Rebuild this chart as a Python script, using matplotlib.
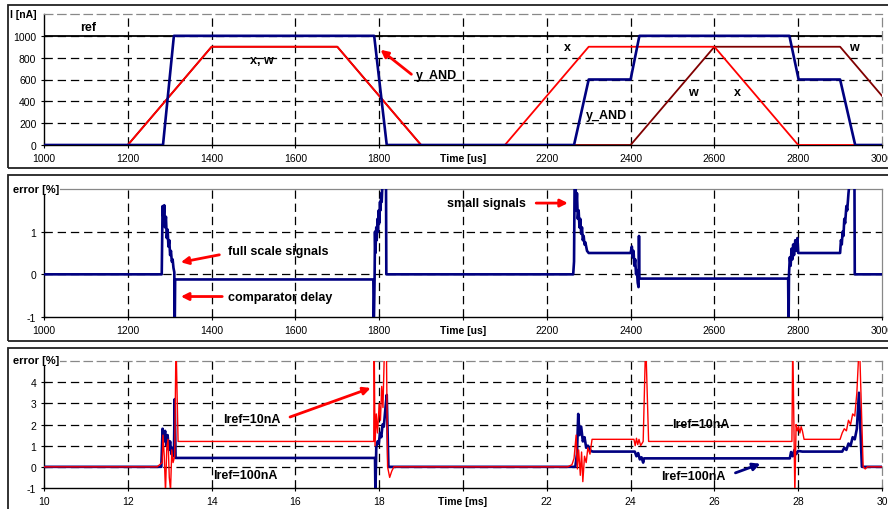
import matplotlib
matplotlib.use("Agg")
import matplotlib.pyplot as plt
from matplotlib.patches import Rectangle

plt.rcParams['font.family'] = ['Liberation Sans', 'DejaVu Sans']
plt.rcParams['lines.scale_dashes'] = False
plt.rcParams['axes.unicode_minus'] = False

NAVY = '#000080'
RED = '#FF0000'
DARKRED = '#800000'

# ---- top panel: currents [nA] vs time [us]
ref_t = [1000, 3000]
ref_v = [1000, 1000]

x_t = [1000, 1200, 1400, 1700, 1900, 2100, 2300, 2600, 2800, 3000]
x_v = [0, 0, 900, 900, 0, 0, 900, 900, 0, 0]

w_t = [1000, 1200, 1400, 1700, 1900, 2400, 2600, 2900, 3000]
w_v = [0, 0, 900, 900, 0, 0, 900, 900, 450]

yand_t = [1000, 1284, 1310, 1788, 1818, 2265, 2300, 2400, 2421, 2779, 2801, 2900, 2936, 3000]
yand_v = [0, 0, 1000, 1000, 0, 0, 600, 600, 1000, 1000, 600, 600, 0, 0]

# ---- middle panel: error [%] vs time [us]
err_t = [1000, 1281, 1283, 1285, 1287, 1289, 1291, 1293, 1295, 1297, 1299, 1301, 1303,
         1305, 1307, 1309, 1311, 1312, 1313, 1786, 1787, 1789, 1790, 1791, 1793, 1794,
         1796, 1797, 1799, 1800, 1802, 1803, 1805, 1806, 1808, 1811, 1816, 1817,
         2263, 2265, 2267, 2270, 2272, 2274, 2276, 2278, 2280, 2282, 2284, 2286, 2288,
         2290, 2292, 2296, 2300, 2400, 2403, 2405, 2407, 2409, 2411, 2413, 2415, 2417,
         2419, 2420, 2421, 2776, 2777, 2778, 2780, 2782, 2784, 2786, 2788, 2790, 2793,
         2795, 2798, 2800, 2900, 2902, 2904, 2906, 2908, 2910, 2912, 2915, 2917, 2920,
         2923, 2928, 2934, 2935, 3000]
err_v = [0, 0, 1.6, 1.3, 1.62, 1.1, 1.35, 0.85, 1.05, 0.65, 0.8, 0.45, 0.55,
         0.3, 0.35, 0.15, 0.05, -1.3, -0.12, -0.12, -1.3, -0.1, 1.0, 0.5, 1.1, 0.8,
         1.3, 1.0, 1.5, 1.2, 1.7, 1.5, 1.9, 1.7, 2.2, 2.5, 3.0, 0.0,
         0, 0.3, 3.0, 1.5, 1.9, 1.3, 1.5, 1.1, 1.3, 0.95, 1.1, 0.8, 0.9,
         0.7, 0.75, 0.55, 0.5, 0.5, 0.65, 0.4, 0.55, 0.2, 0.35, 0.0, 0.1, -0.2,
         -0.3, 0.9, -0.1, -0.1, -1.3, 0.0, 0.4, 0.2, 0.6, 0.35, 0.7, 0.45, 0.8,
         0.55, 0.85, 0.5, 0.5, 0.8, 0.7, 1.0, 0.9, 1.3, 1.2, 1.6, 1.5, 1.9,
         2.2, 2.5, 3.0, 0.0, 0]

# ---- bottom panel: error [%] vs time [ms], two reference currents
i100_t = [10, 12.8, 12.83, 12.86, 12.89, 12.92, 12.95, 12.98, 13.01, 13.04, 13.07, 13.1,
          13.12, 13.14, 17.9, 17.91, 17.93, 17.96, 17.99, 18.02, 18.05, 18.08, 18.11,
          18.15, 18.18, 18.22, 22.68, 22.72, 22.75, 22.78, 22.82, 22.86, 22.9, 22.94,
          22.98, 23.05, 23.1, 24.1, 24.14, 24.18, 24.22, 24.26, 24.3, 24.32, 27.8,
          27.83, 27.87, 27.91, 27.95, 28.0, 28.1, 29.05, 29.1, 29.15, 29.2, 29.25,
          29.3, 29.35, 29.4, 29.45, 29.52, 30]
i100_v = [0, 0, 1.8, 1.2, 1.7, 1.0, 1.5, 0.8, 1.2, 0.6, 0.9, 0.5,
          3.2, 0.42, 0.42, -1.3, 0.9, 1.2, 1.1, 1.6, 1.4, 2.0, 1.9,
          2.8, 3.4, 0.0, 0, 0.6, 2.5, 1.5, 1.9, 1.2, 1.4, 0.9,
          1.0, 0.75, 0.72, 0.72, 0.5, 0.65, 0.35, 0.45, 0.2, 0.4, 0.4,
          0.7, 0.5, 0.8, 0.6, 0.75, 0.72, 0.72, 0.9, 0.8, 1.1, 1.0,
          1.4, 1.3, 1.8, 3.5, 0.0, 0]

i10_t = [10, 12.7, 12.76, 12.82, 12.84, 12.87, 12.9, 12.93, 12.96, 12.99, 13.02, 13.05,
         13.08, 13.12, 13.15, 13.2, 17.87, 17.88, 17.9, 17.93, 17.96, 18.0, 18.03,
         18.06, 18.09, 18.13, 18.17, 18.2, 18.25, 18.3, 18.35, 22.5, 22.6, 22.65,
         22.7, 22.73, 22.76, 22.8, 22.83, 22.86, 22.9, 22.94, 22.98, 23.03, 23.08,
         24.08, 24.11, 24.14, 24.17, 24.2, 24.24, 24.3, 24.36, 24.43, 27.85, 27.87,
         27.92, 27.95, 27.98, 28.01, 28.04, 28.07, 28.1, 28.14, 29.0, 29.05, 29.1,
         29.15, 29.2, 29.25, 29.3, 29.35, 29.4, 29.46, 29.55, 29.6, 29.65, 30]
i10_v = [0, 0, 0.1, 0.2, 1.5, 0.5, -1.2, 0.9, 1.3, -0.5, -1.1, 0.8,
         0.2, 0.5, 6.0, 1.2, 1.2, 6.0, 1.0, 2.5, 1.6, 3.0, 2.2,
         3.8, 2.8, 6.0, 6.0, 0.0, -0.5, -0.2, 0, 0, 0.1, 0.4,
         1.5, -0.1, 0.8, -0.4, 0.7, -0.7, 0.5, 0.2, 0.9, 0.6, 1.3,
         1.3, 1.0, 1.35, 1.05, 1.3, 1.0, 1.2, 6.0, 1.2, 1.2, 6.0,
         -1.3, 2.0, 1.7, 1.9, 1.6, 1.9, 1.7, 1.3, 1.3, 1.6, 1.8,
         1.7, 2.2, 2.0, 2.5, 2.4, 3.5, 6.0, 0.0, -0.1, 0, 0]

top_xticks = [1000, 1200, 1400, 1600, 1800, 2000, 2200, 2400, 2600, 2800, 3000]
top_xlabels = ['1000', '1200', '1400', '1600', '1800', 'Time [us]', '2200', '2400', '2600', '2800', '3000']
bot_xticks = [10, 12, 14, 16, 18, 20, 22, 24, 26, 28, 30]
bot_xlabels = ['10', '12', '14', '16', '18', 'Time [ms]', '22', '24', '26', '28', '30']

W, H = 888, 510
fig = plt.figure(figsize=(W / 100, H / 100), dpi=100)

# chart area frames
for y0, y1 in [(6, 169), (176, 342), (349, 530)]:
    fig.add_artist(Rectangle((8 / W, 1 - y1 / H), 1.2, (y1 - y0) / H, transform=fig.transFigure,
                             fill=False, edgecolor='#222222', linewidth=1.3))


def make_axes(top, bottom, xticks, xlabels, yticks, ylim, border_dashed):
    ax = fig.add_axes([44 / W, 1 - bottom / H, (882 - 44) / W, (bottom - top) / H])
    ax.set_xlim(xticks[0], xticks[-1])
    ax.set_ylim(*ylim)
    ax.set_xticks(xticks)
    ax.set_xticklabels(xlabels)
    ax.get_xticklabels()[5].set_fontweight('bold')
    ax.set_yticks(yticks)
    ax.tick_params(direction='inout', length=5, width=0.8, labelsize=7.5, pad=3)
    for v in xticks[1:-1]:
        ax.axvline(v, color='black', lw=0.9, ls=(0, (6, 3.5)), zorder=1)
    for v in yticks[1:]:
        ax.axhline(v, color='black', lw=0.9, ls=(0, (6, 3.5)), zorder=1)
    ax.spines['left'].set_linewidth(1.0)
    ax.spines['bottom'].set_linewidth(1.0)
    for s in ['top', 'right']:
        ax.spines[s].set_color('#888888')
        ax.spines[s].set_linewidth(0.9)
        if border_dashed:
            ax.spines[s].set_linestyle((0, (6, 3.5)))
    return ax


arrow_red = dict(arrowstyle='-|>', color=RED, lw=2, mutation_scale=11)
lab = dict(fontsize=9, fontweight='bold', va='center')

# top panel
ax1 = make_axes(15, 146, top_xticks, top_xlabels, [0, 200, 400, 600, 800, 1000], (0, 1200), True)
ax1.plot(ref_t, ref_v, color='black', lw=1.3, zorder=2)
ax1.plot(w_t, w_v, color=DARKRED, lw=1.3, zorder=3)
ax1.plot(x_t, x_v, color=RED, lw=1.3, zorder=4)
ax1.plot(yand_t, yand_v, color=NAVY, lw=1.9, zorder=5)
ax1.text(1086, 1081, 'ref', **lab)
ax1.text(1492, 779, 'x, w', **lab)
ax1.text(1887, 640, 'y_AND', **lab)
ax1.annotate('', xy=(1798, 888), xytext=(1882, 632), arrowprops=arrow_red)
ax1.text(2240, 900, 'x', **lab)
ax1.text(2293, 275, 'y_AND', **lab)
ax1.text(2537, 485, 'w', **lab)
ax1.text(2646, 485, 'x', **lab)
ax1.text(2922, 898, 'w', **lab)
fig.text(10 / W, 1 - 15.5 / H, 'I [nA]', fontsize=7.5, fontweight='bold', va='center')

# middle panel
ax2 = make_axes(190, 318, top_xticks, top_xlabels, [-1, 0, 1], (-1, 2), False)
ax2.plot(err_t, err_v, color=NAVY, lw=1.9, zorder=5)
ax2.text(1963, 1.67, 'small signals', **lab)
ax2.annotate('', xy=(2257, 1.67), xytext=(2168, 1.67), arrowprops=arrow_red)
ax2.text(1440, 0.54, 'full scale signals', **lab)
ax2.annotate('', xy=(1320, 0.27), xytext=(1425, 0.47), arrowprops=arrow_red)
ax2.text(1440, -0.54, 'comparator delay', **lab)
ax2.annotate('', xy=(1320, -0.52), xytext=(1432, -0.52), arrowprops=arrow_red)
fig.text(13 / W, 1 - 190 / H, 'error [%]', fontsize=8, fontweight='bold', va='center',
         bbox=dict(facecolor='white', edgecolor='none', pad=0.3))

# bottom panel
ax3 = make_axes(362, 489, bot_xticks, bot_xlabels, [-1, 0, 1, 2, 3, 4], (-1, 5), True)
ax3.plot(i100_t, i100_v, color=NAVY, lw=1.9, zorder=4)
ax3.plot(i10_t, i10_v, color=RED, lw=1.0, zorder=5)
ax3.text(14.28, 2.26, 'Iref=10nA', **lab)
ax3.annotate('', xy=(17.86, 3.77), xytext=(15.81, 2.31), arrowprops=arrow_red)
ax3.text(14.04, -0.38, 'Iref=100nA', **lab)
ax3.text(25.0, 2.03, 'Iref=10nA', **lab)
ax3.text(24.74, -0.42, 'Iref=100nA', **lab)
ax3.annotate('', xy=(27.16, 0.19), xytext=(26.44, -0.33),
             arrowprops=dict(arrowstyle='-|>', color=NAVY, lw=2, mutation_scale=11))
fig.text(13 / W, 1 - 361 / H, 'error [%]', fontsize=8, fontweight='bold', va='center',
         bbox=dict(facecolor='white', edgecolor='none', pad=0.3))

fig.savefig('out.png', dpi=100)
